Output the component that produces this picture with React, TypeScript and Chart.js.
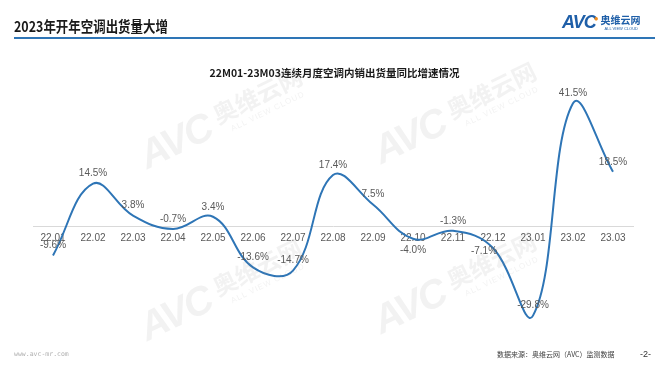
import React, { useEffect, useRef } from "react";
import { Chart, registerables } from "chart.js";

Chart.register(...registerables);

// ---- data ----
const categories = [
  "22.01", "22.02", "22.03", "22.04", "22.05", "22.06", "22.07", "22.08",
  "22.09", "22.10", "22.11", "22.12", "23.01", "23.02", "23.03",
];
const growth = [-9.6, 14.5, 3.8, -0.7, 3.4, -13.6, -14.7, 17.4, 7.5, -4.0, -1.3, -7.1, -29.8, 41.5, 18.5];
const valueLabels = growth.map((v) => v.toFixed(1) + "%");
const labelPlacement = [
  "above", "above", "above", "above", "above", "above", "above", "above",
  "above", "below", "above", "left", "above", "above", "above",
];

const title = "2023年开年空调出货量大增";
const subtitle = "22M01-23M03连续月度空调内销出货量同比增速情况";
const sourceText = "数据来源：奥维云网（AVC）监测数据";
const pageNo = "-2-";
const website = "www.avc-mr.com";

const LINE_BLUE = "#2e75b6";
const LABEL_GRAY = "#595959";
const FONT = '"Liberation Sans", Arial, sans-serif';
const CJK = '"Noto Sans CJK SC", "Noto Sans", sans-serif';

const dataLabelPlugin = {
  id: "dataLabels",
  afterDatasetsDraw(chart: any) {
    const ctx = chart.ctx;
    const meta = chart.getDatasetMeta(0);
    ctx.save();
    ctx.font = "10px " + FONT;
    ctx.fillStyle = LABEL_GRAY;
    ctx.textAlign = "center";
    ctx.textBaseline = "middle";
    meta.data.forEach((pt: any, i: number) => {
      const place = labelPlacement[i];
      let x = pt.x;
      let y = pt.y;
      if (place === "above") y -= 10;
      else if (place === "below") y += 11;
      else if (place === "left") {
        x -= 9;
        y += 3;
      }
      ctx.fillText(valueLabels[i], x, y);
    });
    ctx.restore();
  },
};

function Watermark({ x, y }: { x: number; y: number }) {
  return (
    <div
      style={{
        position: "absolute",
        left: x,
        top: y,
        transform: "translate(-50%, -50%) rotate(-26deg)",
        display: "flex",
        alignItems: "center",
        color: "rgba(150,150,150,0.12)",
        pointerEvents: "none",
        whiteSpace: "nowrap",
      }}
    >
      <span style={{ fontFamily: FONT, fontWeight: 700, fontStyle: "italic", fontSize: 40, letterSpacing: -2 }}>
        AVC
      </span>
      <div style={{ display: "flex", flexDirection: "column", marginLeft: 8 }}>
        <span style={{ fontFamily: CJK, fontWeight: 700, fontSize: 24, lineHeight: 1 }}>奥维云网</span>
        <span style={{ fontFamily: FONT, fontSize: 8, letterSpacing: 1, marginTop: 3, marginLeft: 10 }}>
          ALL VIEW CLOUD
        </span>
      </div>
    </div>
  );
}

export default function App() {
  const canvasRef = useRef<HTMLCanvasElement | null>(null);

  useEffect(() => {
    if (!canvasRef.current) return;
    const chart = new Chart(canvasRef.current, {
      type: "line",
      data: {
        labels: categories,
        datasets: [
          {
            data: growth,
            borderColor: LINE_BLUE,
            borderWidth: 2,
            pointRadius: 0,
            tension: 0.4,
            fill: false,
          },
        ],
      },
      options: {
        animation: false,
        responsive: false,
        devicePixelRatio: 1,
        layout: { padding: { left: 33, right: 36, top: 78, bottom: 28 } },
        plugins: {
          legend: { display: false },
          tooltip: { enabled: false },
          title: { display: false },
        },
        scales: {
          x: {
            type: "category",
            offset: true,
            position: { y: 0 } as any,
            grid: { display: false, drawTicks: false },
            border: { display: true, color: "#d9d9d9", width: 1 },
            ticks: {
              color: LABEL_GRAY,
              font: { family: FONT, size: 10 },
              padding: 5,
              maxRotation: 0,
              autoSkip: false,
            },
          },
          y: {
            type: "linear",
            display: false,
            min: -40,
            max: 50,
          },
        },
      },
      plugins: [dataLabelPlugin],
    });
    return () => chart.destroy();
  }, []);

  return (
    <div
      style={{
        position: "absolute",
        left: 0,
        top: 0,
        width: 669,
        height: 374,
        background: "#ffffff",
        overflow: "hidden",
      }}
    >
      <canvas ref={canvasRef} width={669} height={374} style={{ position: "absolute", left: 0, top: 0 }} />

      <div
        style={{
          position: "absolute",
          left: 14,
          top: 18,
          fontFamily: CJK,
          fontWeight: 700,
          fontSize: 15,
          lineHeight: "16px",
          color: "#1a1a1a",
          whiteSpace: "nowrap",
          transform: "scaleX(0.83)",
          transformOrigin: "left center",
        }}
      >
        {title}
      </div>
      <div style={{ position: "absolute", left: 14, top: 37, width: 641, height: 2, background: LINE_BLUE }} />

      {/* logo */}
      <div style={{ position: "absolute", left: 562, top: 12, display: "flex", alignItems: "center", whiteSpace: "nowrap" }}>
        <span
          style={{
            fontFamily: FONT,
            fontWeight: 700,
            fontStyle: "italic",
            fontSize: 18,
            color: "#1f5fa8",
            letterSpacing: -1,
          }}
        >
          AVC
          <span style={{ color: "#f08c1e", fontSize: 8, position: "relative", top: -7, left: -2 }}>●</span>
        </span>
        <div style={{ display: "flex", flexDirection: "column", marginLeft: 1 }}>
          <span style={{ fontFamily: CJK, fontWeight: 700, fontSize: 10, lineHeight: "12px", color: "#1f5fa8" }}>奥维云网</span>
          <span style={{ fontFamily: FONT, fontSize: 4, lineHeight: "5px", color: "#1f5fa8", marginLeft: 4 }}>
            ALL VIEW CLOUD
          </span>
        </div>
      </div>

      <div
        style={{
          position: "absolute",
          left: 0,
          top: 67,
          width: 669,
          textAlign: "center",
          fontFamily: CJK,
          fontWeight: 700,
          fontSize: 10.5,
          lineHeight: "12px",
          color: "#1a1a1a",
          whiteSpace: "nowrap",
        }}
      >
        {subtitle}
      </div>

      <Watermark x={222} y={118} />
      <Watermark x={456} y={113} />
      <Watermark x={222} y={290} />
      <Watermark x={456} y={283} />

      <div
        style={{
          position: "absolute",
          left: 14,
          top: 350,
          fontFamily: '"DejaVu Sans Mono", monospace',
          fontSize: 6.5,
          lineHeight: "8px",
          color: "#b0b0b0",
        }}
      >
        {website}
      </div>
      <div
        style={{
          position: "absolute",
          left: 497,
          top: 350,
          fontFamily: CJK,
          fontSize: 7,
          lineHeight: "8px",
          color: "#404040",
          whiteSpace: "nowrap",
        }}
      >
        {sourceText}
      </div>
      <div
        style={{
          position: "absolute",
          left: 640,
          top: 349,
          fontFamily: FONT,
          fontSize: 9,
          lineHeight: "10px",
          color: "#333333",
        }}
      >
        {pageNo}
      </div>
    </div>
  );
}
